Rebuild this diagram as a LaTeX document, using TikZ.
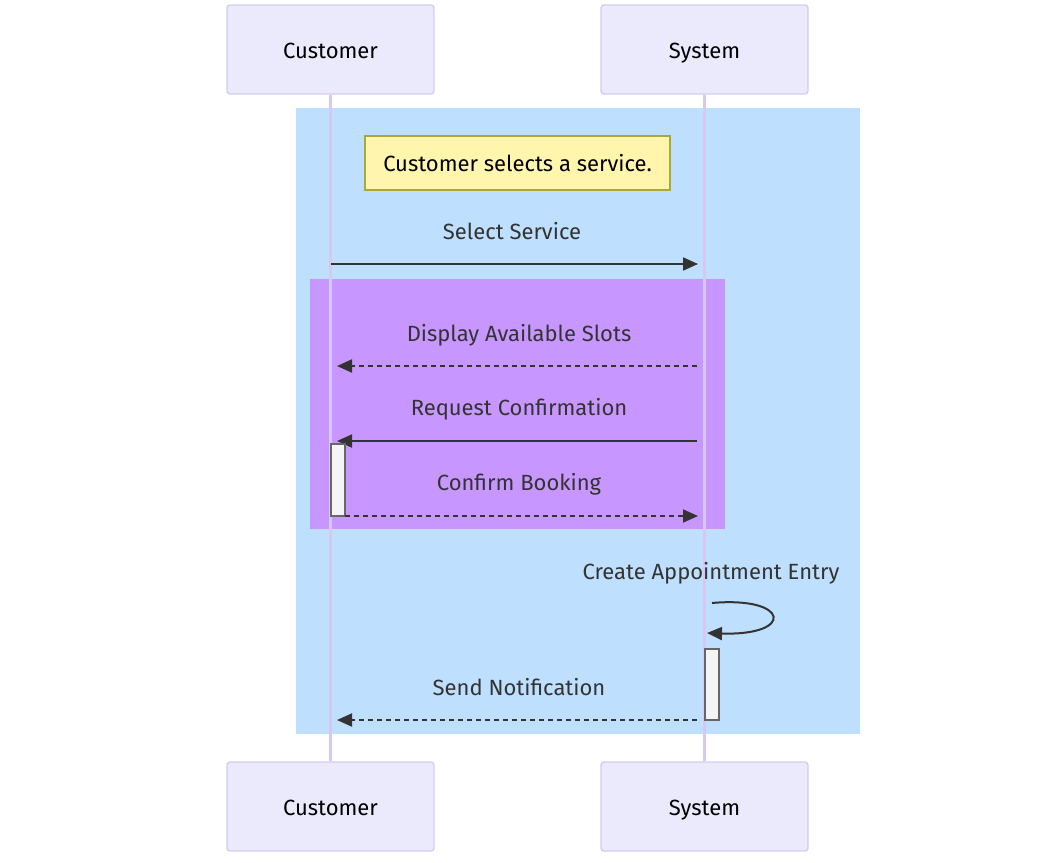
\documentclass[tikz,border=0pt]{standalone}
\usepackage{fontspec}
\setmainfont{Fira Sans}
\usetikzlibrary{arrows.meta}
\definecolor{actfill}{RGB}{234,234,252}
\definecolor{actline}{RGB}{212,204,240}
\definecolor{lifeline}{RGB}{214,200,240}
\definecolor{bluebg}{RGB}{190,223,253}
\definecolor{purplebg}{RGB}{200,150,255}
\definecolor{notefill}{RGB}{255,245,173}
\definecolor{noteline}{RGB}{170,170,51}
\definecolor{msgcol}{RGB}{51,51,51}
\definecolor{actvfill}{RGB}{244,244,244}
\definecolor{actvline}{RGB}{102,102,102}
\tikzset{
  x=1pt,y=-1pt,
  txt/.style={font=\fontsize{22}{26}\selectfont,text height=19pt,text depth=2pt},
  actor/.style={txt,draw=actline,fill=actfill,line width=1.4pt,rounded corners=3pt,minimum width=207pt,minimum height=89pt,inner sep=0pt,text=black},
  lline/.style={draw=lifeline,line width=2.2pt},
  msglabel/.style={txt,text=msgcol,inner sep=0pt},
  msg/.style={draw=msgcol,line width=2pt,-{Triangle[length=15pt,width=13pt]}},
  dmsg/.style={msg,dash pattern=on 5pt off 4pt},
  actv/.style={draw=actvline,fill=actvfill,line width=1.2pt,minimum width=14pt,inner sep=0pt},
  notebox/.style={txt,draw=noteline,fill=notefill,line width=1.2pt,minimum width=305pt,minimum height=54pt,inner sep=0pt,text=black}
}
\begin{document}
\begin{tikzpicture}
\useasboundingbox (0,0) rectangle (1062,862);
% frames
\fill[bluebg] (296,108) rectangle (860,734);
\fill[purplebg] (310,279) rectangle (725,529);
% actors
\node[actor] (c1) at (330.5,49.5) {Customer};
\node[actor] (s1) at (704.5,49.5) {System};
\node[actor] (c2) at (330.5,806.5) {Customer};
\node[actor] (s2) at (704.5,806.5) {System};
% lifelines
\draw[lline] (c1.south) -- (c2.north);
\draw[lline] (s1.south) -- (s2.north);
% note
\node[notebox] (note) at (517.5,163) {Customer selects a service.};
% messages
\coordinate (m1a) at (331,264); \coordinate (m1b) at (698,264);
\node[msglabel] (l1) at (512,231) {Select Service};
\draw[msg] (m1a) -- (m1b);

\coordinate (m2a) at (697,366); \coordinate (m2b) at (337,366);
\node[msglabel] (l2) at (519,333) {Display Available Slots};
\draw[dmsg] (m2a) -- (m2b);

\coordinate (m3a) at (697,441); \coordinate (m3b) at (337,441);
\node[msglabel] (l3) at (519,407) {Request Confirmation};
\draw[msg] (m3a) -- (m3b);

\node[actv,minimum height=72pt] (a1) at (338,480) {};

\coordinate (m4a) at (345,516); \coordinate (m4b) at (698,516);
\node[msglabel] (l4) at (519,482) {Confirm Booking};
\draw[dmsg] (m4a) -- (m4b);

\node[msglabel] (l5) at (711,571) {Create Appointment Entry};
\coordinate (m5a) at (712,603); \coordinate (m5b) at (707,633);
\draw[msg] (m5a) .. controls (790,596) and (795,636) .. (m5b);

\node[actv,minimum height=71pt] (a2) at (712,684.5) {};

\coordinate (m6a) at (697,720); \coordinate (m6b) at (337,720);
\node[msglabel] (l6) at (519,687) {Send Notification};
\draw[dmsg] (m6a) -- (m6b);
\end{tikzpicture}
\end{document}
